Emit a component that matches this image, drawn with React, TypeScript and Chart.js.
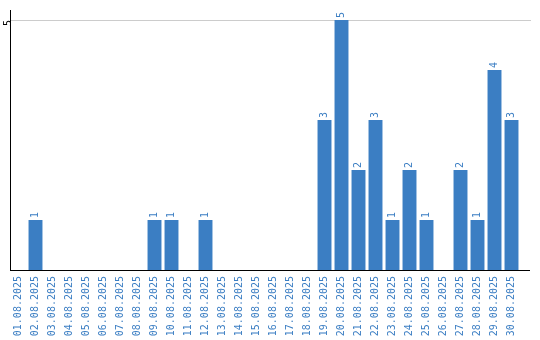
import React, { useEffect, useRef } from "react";
import { Chart, registerables } from "chart.js";

Chart.register(...registerables);

const categories = [
  "01.08.2025", "02.08.2025", "03.08.2025", "04.08.2025", "05.08.2025",
  "06.08.2025", "07.08.2025", "08.08.2025", "09.08.2025", "10.08.2025",
  "11.08.2025", "12.08.2025", "13.08.2025", "14.08.2025", "15.08.2025",
  "16.08.2025", "17.08.2025", "18.08.2025", "19.08.2025", "20.08.2025",
  "21.08.2025", "22.08.2025", "23.08.2025", "24.08.2025", "25.08.2025",
  "26.08.2025", "27.08.2025", "28.08.2025", "29.08.2025", "30.08.2025",
];
const values = [
  0, 1, 0, 0, 0, 0, 0, 0, 1, 1,
  0, 1, 0, 0, 0, 0, 0, 0, 3, 5,
  2, 3, 1, 2, 1, 0, 2, 1, 4, 3,
];
const yTickLabels = [5];

const BLUE = "#3b7ec3";
const FONT = "'DejaVu Sans Mono', monospace";

const valueLabels = {
  id: "valueLabels",
  afterDatasetsDraw(chart: any) {
    const ctx = chart.ctx;
    const meta = chart.getDatasetMeta(0);
    ctx.save();
    ctx.fillStyle = BLUE;
    ctx.font = `10px ${FONT}`;
    ctx.textAlign = "left";
    ctx.textBaseline = "middle";
    meta.data.forEach((bar: any, i: number) => {
      const v = values[i];
      if (!v) return;
      ctx.save();
      ctx.translate(bar.x, bar.y - 2);
      ctx.rotate(-Math.PI / 2);
      ctx.fillText(String(v), 0, 0);
      ctx.restore();
    });
    ctx.restore();
  },
};

const extendLines = {
  id: "extendLines",
  afterDraw(chart: any) {
    const ctx = chart.ctx;
    const area = chart.chartArea;
    const y = chart.scales.y;
    ctx.save();
    ctx.lineWidth = 1;
    ctx.strokeStyle = "#cccccc";
    const gy = Math.round(y.getPixelForValue(5)) + 0.5;
    ctx.beginPath();
    ctx.moveTo(area.right, gy);
    ctx.lineTo(531, gy);
    ctx.stroke();
    ctx.strokeStyle = "#000000";
    const by = Math.round(area.bottom) + 0.5;
    ctx.beginPath();
    ctx.moveTo(area.right - 1, by);
    ctx.lineTo(530, by);
    ctx.stroke();
    ctx.restore();
  },
};

export default function App() {
  const ref = useRef<HTMLCanvasElement | null>(null);
  useEffect(() => {
    document.body.style.margin = "0";
    if (!ref.current) return;
    const chart = new Chart(ref.current, {
      type: "bar",
      data: {
        labels: categories,
        datasets: [
          {
            data: values,
            backgroundColor: BLUE,
            categoryPercentage: 1,
            barPercentage: 0.82,
          },
        ],
      },
      options: {
        animation: false,
        responsive: false,
        maintainAspectRatio: false,
        layout: { padding: { top: 10, right: 20, left: 1, bottom: 0 } },
        plugins: { legend: { display: false }, tooltip: { enabled: false } },
        scales: {
          x: {
            grid: { display: false, drawTicks: false },
            border: { display: true, color: "#000000", width: 1 },
            ticks: {
              color: BLUE,
              font: { family: FONT, size: 10 },
              minRotation: 90,
              maxRotation: 90,
              padding: 6,
              autoSkip: false,
            },
            afterFit(scale: any) {
              scale.height = 70;
            },
          },
          y: {
            min: 0,
            max: 5.2,
            grid: {
              drawTicks: false,
              color: "#cccccc",
            },
            border: { display: true, color: "#000000", width: 1 },
            ticks: {
              color: "#000000",
              font: { family: FONT, size: 10 },
              minRotation: 90,
              maxRotation: 90,
              padding: 2,
            },
            afterBuildTicks(scale: any) {
              scale.ticks = yTickLabels.map((v) => ({ value: v }));
            },
            afterFit(scale: any) {
              scale.width = 9;
            },
          },
        },
      },
      plugins: [valueLabels, extendLines],
    });
    return () => chart.destroy();
  }, []);
  return <canvas ref={ref} width={540} height={340} style={{ display: "block" }} />;
}
